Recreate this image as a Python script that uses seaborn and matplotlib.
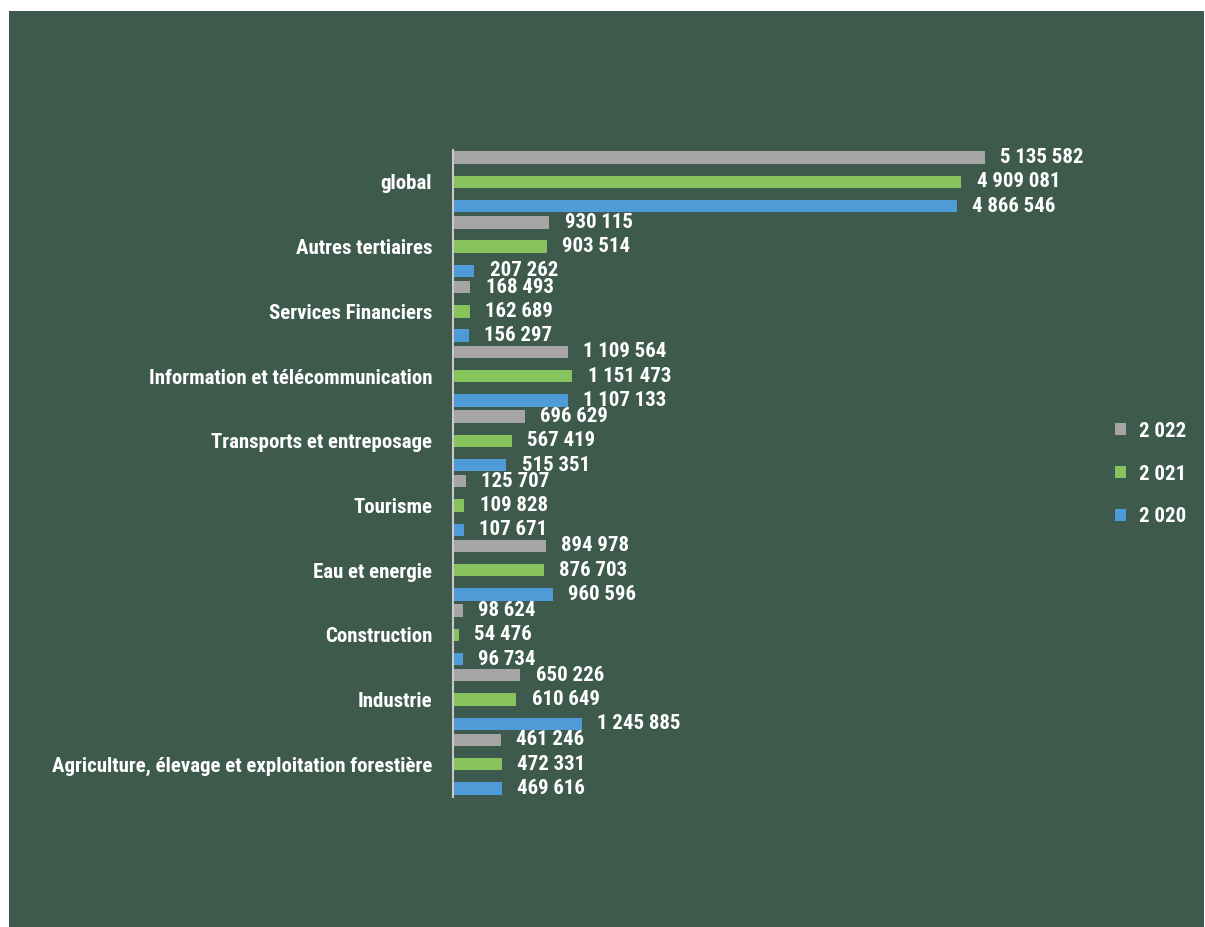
import matplotlib
matplotlib.use("Agg")
import matplotlib.pyplot as plt
from matplotlib.patches import Rectangle
import seaborn as sns
import pandas as pd

# Sector values per year
categories = [
    "global",
    "Autres tertiaires",
    "Services Financiers",
    "Information et télécommunication",
    "Transports et entreposage",
    "Tourisme",
    "Eau et energie",
    "Construction",
    "Industrie",
    "Agriculture, élevage et exploitation forestière",
]
values_2022 = [5135582, 930115, 168493, 1109564, 696629, 125707, 894978, 98624, 650226, 461246]
values_2021 = [4909081, 903514, 162689, 1151473, 567419, 109828, 876703, 54476, 610649, 472331]
values_2020 = [4866546, 207262, 156297, 1107133, 515351, 107671, 960596, 96734, 1245885, 469616]
year_labels = ["2 022", "2 021", "2 020"]
year_colors = ["#a5a5a5", "#86c35c", "#4f9bd8"]

BG = "#3e5a4c"

def spaced(v):
    return f"{v:,}".replace(",", " ")

rows = []
for lab, vals in zip(year_labels, [values_2022, values_2021, values_2020]):
    for cat, v in zip(categories, vals):
        rows.append({"secteur": cat, "annee": lab, "valeur": v})
df = pd.DataFrame(rows)

sns.set_theme(style="white")
plt.rcParams["font.family"] = ["Roboto Condensed", "Roboto", "DejaVu Sans"]

W, H = 1205, 927
fig = plt.figure(figsize=(W / 100, H / 100), dpi=100, facecolor="white")
fig.patches.append(Rectangle((9 / W, 0), (1204 - 9) / W, (H - 11) / H,
                             transform=fig.transFigure, facecolor=BG,
                             edgecolor="none", zorder=-10))

ax_left, ax_top, ax_bottom = 453, 149.6, 796.6
ax_w = 621.5
ax = fig.add_axes([ax_left / W, 1 - ax_bottom / H, ax_w / W, (ax_bottom - ax_top) / H])
ax.set_facecolor("none")

sns.barplot(data=df, y="secteur", x="valeur", hue="annee",
            order=categories, hue_order=year_labels,
            palette=year_colors, orient="h", errorbar=None,
            width=1.128, gap=0.49, saturation=1,
            edgecolor="none", linewidth=0, ax=ax)

ax.set_xlim(0, 6.0e6)
ax.set_ylim(9.5, -0.5)

for cont in ax.containers:
    ax.bar_label(cont, labels=[spaced(int(v)) for v in cont.datavalues],
                 padding=11, color="white", fontsize=15, fontweight="bold")

ax.set_xlabel("")
ax.set_ylabel("")
ax.set_xticks([])
ax.tick_params(axis="y", length=0, pad=15, labelsize=15, labelcolor="white")
for t in ax.get_yticklabels():
    t.set_fontweight("bold")

for side in ["top", "right", "bottom"]:
    ax.spines[side].set_visible(False)
ax.spines["left"].set_color("#c8c8c8")
ax.spines["left"].set_linewidth(1.5)

handles, labels = ax.get_legend_handles_labels()
if ax.legend_:
    ax.legend_.remove()
leg = fig.legend(handles, labels, loc="center left",
                 bbox_to_anchor=(1096 / W, 1 - 474 / H),
                 frameon=False, handlelength=0.55, handleheight=0.55,
                 handletextpad=0.6, labelspacing=1.15,
                 prop={"size": 15, "weight": "bold"})
for txt in leg.get_texts():
    txt.set_color("white")
for h in leg.legend_handles:
    h.set_edgecolor("none")

fig.savefig("out.png", dpi=100, facecolor=fig.get_facecolor())
